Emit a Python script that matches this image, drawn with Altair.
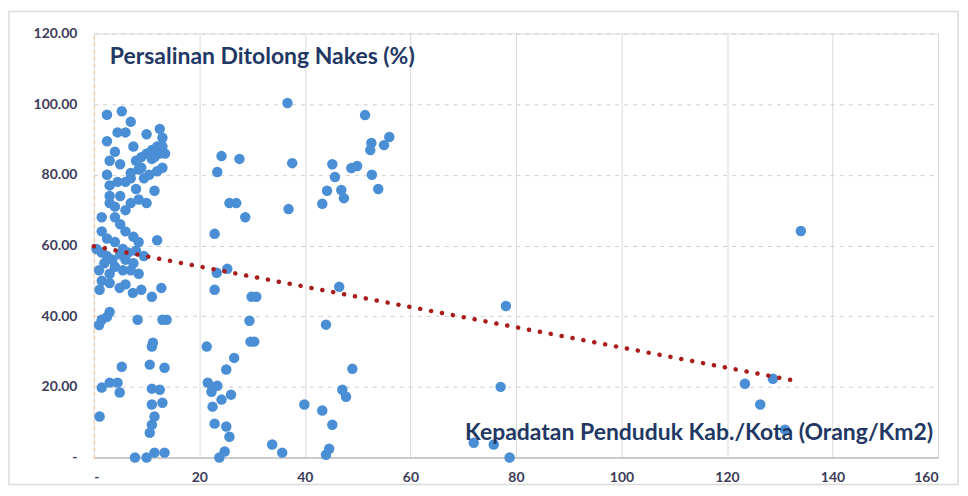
import altair as alt
import pandas as pd

# Kepadatan penduduk (x) and Persalinan ditolong nakes % (y)
density = [
    2.5, 5.3, 7.0, 6.0, 4.5, 2.5, 4.0, 10, 12.5, 13, 12, 11, 10, 9, 8, 12.5, 13, 11.5, 9, 7, 5, 3, 13, 10.5, 9.5, 8.5, 12, 11, 13.5, 7.5,
    2.5, 3, 3, 4, 5, 6, 7, 8, 7, 6, 4, 5, 8.5, 10, 11.5, 6, 7.5, 1.5, 2.5, 4, 8.5, 12, 3, 4.5, 1.5,
    0.5, 1.5, 2.5, 3.5, 5, 6, 7.5, 4, 5.5, 7, 8.5, 3, 2, 6.5, 8, 9.5, 4.9, 6, 7.4, 9, 1.5, 3, 1.1, 11, 12.8, 5.5, 1,
    1.5, 2.5, 3, 8.3, 13, 13.8, 11, 11.2, 5.3, 10.6, 13.4, 1.5, 3, 4.5, 4.9, 11, 12.5, 11, 13, 11.5, 11, 10.6, 1.1, 7.8, 10, 11.5, 13.4, 1,
    24.2, 23.4, 27.6, 25.7, 27, 28.7, 22.9, 23.3, 25.3, 22.9, 29.9, 30.8, 29.5, 29.7, 30.4, 21.4, 26.6, 25.1, 21.6, 22.5, 23.4, 22.3, 26, 24.2, 22.5, 22.9, 25.1, 25.7, 24.8, 23.8, 33.8, 35.7,
    36.7, 37.6, 36.9, 39.9, 43.3, 45.2, 44, 44.6, 44, 46.5, 49, 47.1, 47.8, 45.2, 45.7, 44.2, 43.3, 46.9, 47.4, 48.8, 49.9, 51.4, 52.6, 52.4, 52.7, 53.9, 55, 56,
    78.1, 77.1, 78.8, 72, 75.8, 134, 123.4, 128.7, 126.3, 131,
]
deliveries = [
    97, 98, 95, 92, 92, 89.5, 86.5, 91.5, 93, 90.5, 88, 87, 86, 85, 84, 86, 88, 85, 82, 80.5, 83, 84, 82, 80, 79, 81.5, 81, 84.5, 86, 88,
    80, 77, 74, 71, 74, 78, 79, 76, 72, 70, 68, 66, 73, 72, 75.5, 64, 62.5, 64, 62, 61, 61, 61.5, 72, 78, 68,
    59, 58, 57, 56, 57.5, 56, 55, 54, 53, 53, 52, 52, 55, 58, 58.5, 57, 48, 49, 46.6, 47.5, 50, 49.4, 47.5, 45.5, 48, 59, 53,
    39, 39.8, 41.2, 39, 39, 39, 31.4, 32.5, 25.7, 26.3, 25.4, 19.8, 21.2, 21.2, 18.4, 19.5, 19.2, 15, 15.5, 11.6, 9.3, 7, 11.6, 0, 0, 1.4, 1.4, 37.5,
    85.3, 80.8, 84.5, 72, 72, 68, 63.3, 52.3, 53.4, 47.5, 45.5, 45.5, 38.7, 32.8, 32.8, 31.4, 28.2, 24.9, 21.2, 20, 20.3, 18.6, 17.8, 16.4, 14.4, 9.6, 8.8, 5.9, 1.7, 0, 3.7, 1.4,
    100.3, 83.3, 70.3, 15, 13.3, 9.3, 0.8, 2.5, 37.6, 48.3, 25.1, 19.2, 17.2, 83, 79.4, 75.5, 71.8, 75.7, 73.4, 81.9, 82.5, 96.9, 89, 87, 80, 76, 88.4, 90.7,
    42.9, 20, 0, 4.2, 3.7, 64.1, 20.9, 22.3, 15, 7.9,
]
trend_x = [0, 133]
trend_y = [59.8, 21.7]
x_ticks = [0, 20, 40, 60, 80, 100, 120, 140, 160]
y_ticks = [0, 20, 40, 60, 80, 100, 120]
y_title = "Persalinan Ditolong Nakes (%)"
x_title = "Kepadatan Penduduk Kab./Kota (Orang/Km2)"

pts = pd.DataFrame({"x": density, "y": deliveries})
trend = pd.DataFrame({"x": trend_x, "y": trend_y})

NAVY = "#1F3864"
LABEL = "#3C3C5A"
xs = alt.Scale(domain=[0, 160], nice=False, zero=False)
ys = alt.Scale(domain=[0, 120], nice=False, zero=False)

hide_zero = {"condition": {"test": "datum.value === 0", "value": 0}, "value": 1}

x_axis = alt.Axis(
    values=x_ticks, title=None, grid=True, gridColor="#D9D9D9", gridWidth=1,
    gridOpacity=hide_zero, ticks=False, domainColor="#BFBFBF", domainWidth=1.5,
    labelFont="Lato", labelFontSize=14, labelFontWeight="bold", labelColor=LABEL,
    labelPadding=13, labelExpr="datum.value === 0 ? '-' : datum.label",
)
y_axis = alt.Axis(
    values=y_ticks, title=None, grid=True, gridColor="#CFCFCF", gridWidth=1,
    gridDash=[4, 5], gridOpacity=hide_zero, ticks=False, domainColor="#F4C7A6",
    domainDash=[3, 4], domainWidth=1.5,
    labelFont="Lato", labelFontSize=14, labelFontWeight="bold", labelColor=LABEL,
    labelPadding=17, labelExpr="datum.value === 0 ? '-     ' : format(datum.value, '.2f')",
)

points = alt.Chart(pts).mark_circle(size=110, opacity=1, color="#4A8FD6").encode(
    x=alt.X("x:Q", scale=xs, axis=x_axis),
    y=alt.Y("y:Q", scale=ys, axis=y_axis),
)

line = alt.Chart(trend).mark_line(
    color="#A81C1C", strokeWidth=4.5, strokeDash=[0.1, 11], strokeCap="round"
).encode(x=alt.X("x:Q", scale=xs), y=alt.Y("y:Q", scale=ys))

t1 = alt.Chart(pd.DataFrame({"t": [y_title]})).mark_text(
    align="left", baseline="middle", font="Lato", fontSize=23, fontWeight="bold", color=NAVY
).encode(x=alt.value(16), y=alt.value(24), text="t:N")

t2 = alt.Chart(pd.DataFrame({"t": [x_title]})).mark_text(
    align="left", baseline="middle", font="Lato", fontSize=23, fontWeight="bold", color=NAVY
).encode(x=alt.value(372), y=alt.value(400), text="t:N")

frame = alt.Chart(pd.DataFrame({"a": [0]})).mark_rect(
    fill="white", fillOpacity=0, stroke="#DADADA", strokeWidth=1.5
).encode(x=alt.value(-85), x2=alt.value(866), y=alt.value(-22), y2=alt.value(452))

chart = alt.layer(frame, points, line, t1, t2).properties(
    width=846, height=425,
    autosize=alt.AutoSizeParams(type="none"),
    padding={"left": 86, "top": 25, "right": 22, "bottom": 30},
).configure_view(stroke=None).configure(background="white")

chart.save("out.html", embed_options={"renderer": "svg", "actions": False})
